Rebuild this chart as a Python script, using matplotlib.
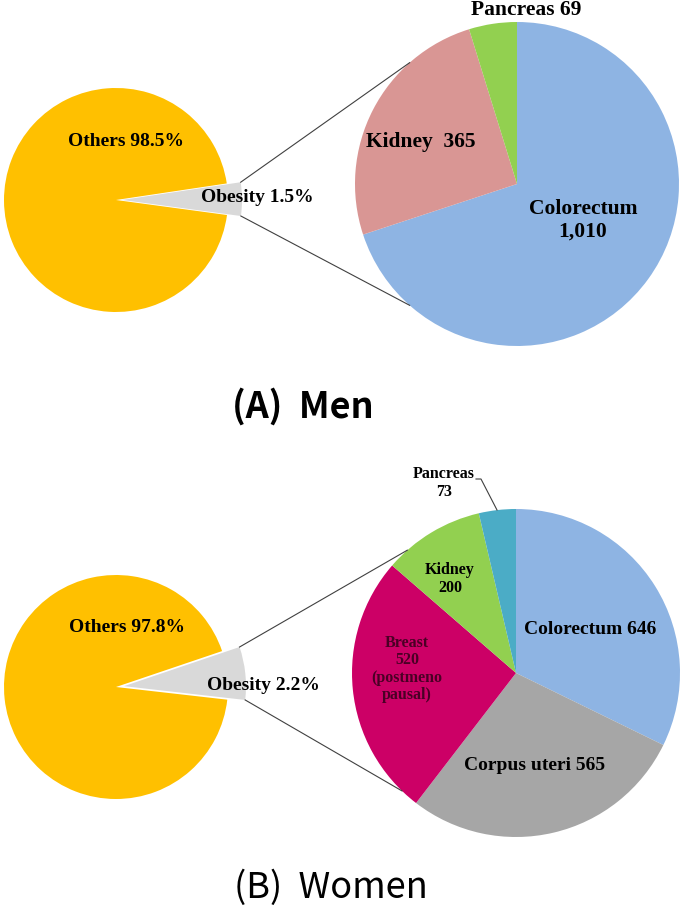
import numpy as np
import matplotlib
matplotlib.use("Agg")
import matplotlib.pyplot as plt

# left pies: share drawn for obesity vs others (as it looks in the picture)
men_left_sizes = [4.5, 95.5]
women_left_sizes = [7.0, 93.0]
men_left_labels = ["Obesity 1.5%", "Others 98.5%"]
women_left_labels = ["Obesity 2.2%", "Others 97.8%"]

# right pies: cancer cases attributable to obesity
men_sites = ["Colorectum", "Kidney", "Pancreas"]
men_cases = [1010, 365, 69]
women_sites = ["Colorectum", "Corpus uteri", "Breast", "Kidney", "Pancreas"]
women_cases = [646, 565, 520, 200, 73]

men_colors = ["#8EB4E3", "#D99694", "#92D050"]
women_colors = ["#8EB4E3", "#A6A6A6", "#CC0066", "#92D050", "#4BACC6"]
left_colors = ["#D9D9D9", "#FFC000"]

W, H = 682, 906
fig = plt.figure(figsize=(W / 100, H / 100), dpi=100)
ax = fig.add_axes([0, 0, 1, 1])


def Y(y):
    # picture rows -> data y
    return H - y


serif = dict(family="Liberation Serif", weight="bold")


def pie_of_pie(left_sizes, start, explode, left_c, left_r, wedge_r,
               right_vals, right_colors, right_c, right_r, link_angles):
    lw, _ = ax.pie(left_sizes, colors=left_colors, startangle=start,
                   counterclock=True, center=left_c, radius=left_r,
                   explode=[explode, 0], frame=True)
    lw[0].set_radius(wedge_r)
    rw, _ = ax.pie(right_vals, colors=right_colors, startangle=90,
                   counterclock=False, center=right_c, radius=right_r,
                   frame=True)
    # connector lines from the obesity wedge to the second pie
    g = lw[0]
    cx, cy = g.center
    for th, ang in zip([g.theta2, g.theta1], link_angles):
        x0 = cx + g.r * np.cos(np.radians(th))
        y0 = cy + g.r * np.sin(np.radians(th))
        x1 = right_c[0] + right_r * np.cos(np.radians(ang))
        y1 = right_c[1] + right_r * np.sin(np.radians(ang))
        ax.plot([x0, x1], [y0, y1], color="#404040", lw=0.8)
    return lw, rw


# (A) Men
pie_of_pie(men_left_sizes, -7.7, 6, (116, Y(200)), 112, 120,
           men_cases, men_colors, (517, Y(184)), 162, [131.5, 228.5])
# (B) Women
pie_of_pie(women_left_sizes, -6.5, 8, (116, Y(687)), 112, 122,
           women_cases, women_colors, (516, Y(673)), 164, [131.5, 226])

ax.set_xlim(0, W)
ax.set_ylim(0, H)
ax.set_aspect("equal")
ax.axis("off")

# men labels
ax.text(126, Y(142), men_left_labels[1], ha="center", va="center", fontsize=14, **serif)
ax.text(257, Y(197), men_left_labels[0], ha="center", va="center", fontsize=14, **serif)
ax.text(421, Y(142), f"{men_sites[1]}  {men_cases[1]}", ha="center", va="center", fontsize=15.5, **serif)
ax.text(583, Y(220), f"{men_sites[0]}\n{men_cases[0]:,}", ha="center", va="center",
        fontsize=15.5, linespacing=1.15, **serif)
ax.text(526, Y(10), f"{men_sites[2]} {men_cases[2]}", ha="center", va="center", fontsize=15.5, **serif)

# women labels
ax.text(127, Y(628), women_left_labels[1], ha="center", va="center", fontsize=14, **serif)
ax.text(263, Y(686), women_left_labels[0], ha="center", va="center", fontsize=14, **serif)
ax.text(590, Y(629), f"{women_sites[0]} {women_cases[0]}", ha="center", va="center", fontsize=14, **serif)
ax.text(535, Y(765), f"{women_sites[1]} {women_cases[1]}", ha="center", va="center", fontsize=14, **serif)
ax.text(407, Y(669), f"{women_sites[2]}\n{women_cases[2]}\n(postmeno\npausal)", ha="center",
        va="center", fontsize=11.5, linespacing=1.1, color="#4a0025", **serif)
ax.text(450, Y(579), f"{women_sites[3]}\n{women_cases[3]}", ha="center", va="center",
        fontsize=11.5, linespacing=1.1, **serif)
ax.text(444, Y(483), f"{women_sites[4]}\n{women_cases[4]}", ha="center", va="center",
        fontsize=11.5, linespacing=1.1, **serif)
ax.plot([476, 481, 497], [Y(479), Y(479), Y(510)], color="#404040", lw=0.8)

# panel titles
ax.text(303, Y(407), "(A)  Men", ha="center", va="center", fontsize=26,
        family="Noto Sans CJK KR", weight="bold")
ax.text(331, Y(888), "(B)  Women", ha="center", va="center", fontsize=26,
        family="Noto Sans CJK KR", weight="normal")

fig.savefig("out.png", dpi=100)
